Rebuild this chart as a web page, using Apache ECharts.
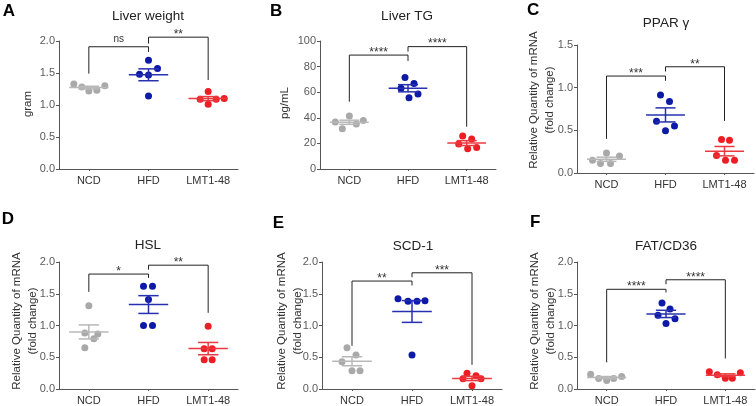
<!DOCTYPE html>
<html><head><meta charset="utf-8">
<script src="https://cdn.jsdelivr.net/npm/echarts@6/dist/echarts.min.js"></script>
<style>html,body{margin:0;padding:0;background:#fff}#c{width:756px;height:406px}</style>
</head><body><div id="c"></div>
<script>
const categories = ['NCD', 'HFD', 'LMT1-48'];

// A – Liver weight (gram)
const liverWeightNCD = [1.33, 1.28, 1.22, 1.23, 1.30];
const liverWeightHFD = [1.70, 1.57, 1.48, 1.47, 1.14];
const liverWeightLMT = [1.21, 1.09, 1.09, 1.10, 1.01];
const liverWeightTicks = ['0.0', '0.5', '1.0', '1.5', '2.0'];
const liverWeightBrackets = [[0, 1, 1.91, 1.49, 1.83, 'ns'], [1, 2, 2.06, 1.96, 1.39, '**']];

// B – Liver TG (pg/mL)
const liverTGNCD = [36.7, 41.4, 31.5, 35.2, 37.8];
const liverTGHFD = [71.4, 66.7, 63.0, 58.6, 55.7];
const liverTGLMT = [25.8, 23.4, 19.5, 15.9, 16.7];
const liverTGTicks = ['0', '20', '40', '60', '80', '100'];
const liverTGBrackets = [[0, 1, 89, 52.6, 84.4, '****'], [1, 2, 95.6, 91.7, 33, '****']];

// C – PPAR gamma
const pparNCD = [0.15, 0.11, 0.235, 0.11, 0.20];
const pparHFD = [0.913, 0.838, 0.607, 0.552, 0.494];
const pparLMT = [0.392, 0.384, 0.204, 0.149, 0.149];
const pparTicks = ['0.0', '0.5', '1.0', '1.5'];
const pparBrackets = [[0, 1, 1.136, 0.40, 1.08, '***'], [1, 2, 1.245, 1.19, 0.61, '**']];

// D – HSL
const hslNCD = [1.31, 0.88, 0.865, 0.79, 0.65];
const hslHFD = [1.62, 1.62, 1.41, 1.00, 1.00];
const hslLMT = [0.99, 0.635, 0.635, 0.46, 0.46];
const hslTicks = ['0.0', '0.5', '1.0', '1.5', '2.0'];
const hslBrackets = [[0, 1, 1.81, 1.53, 1.75, '*'], [1, 2, 1.95, 1.88, 1.20, '**']];

// E – SCD-1
const scdNCD = [0.65, 0.535, 0.43, 0.286, 0.286];
const scdHFD = [1.42, 1.38, 1.38, 1.39, 0.535];
const scdLMT = [0.25, 0.21, 0.16, 0.16, 0.05];
const scdTicks = ['0.0', '0.5', '1.0', '1.5', '2.0'];
const scdBrackets = [[0, 1, 1.70, 0.68, 1.63, '**'], [1, 2, 1.83, 1.76, 0.38, '***']];

// F – FAT/CD36
const cd36NCD = [0.234, 0.166, 0.135, 0.166, 0.197];
const cd36HFD = [1.356, 1.26, 1.16, 1.106, 1.03];
const cd36LMT = [0.27, 0.255, 0.223, 0.17, 0.17];
const cd36Ticks = ['0.0', '0.5', '1.0', '1.5', '2.0'];
const cd36Brackets = [[0, 1, 1.57, 0.42, 1.52, '****'], [1, 2, 1.72, 1.65, 0.48, '****']];

// ---- layout / style (not data) ----
const FONT = '"Liberation Sans", Arial, Helvetica, sans-serif';
const pointColors = ['#a9a9a9', '#0d1aa8', '#ee1d24'];
const lineColors = ['#b8b8b8', '#2630b0', '#ea3a3f'];
const RQ = 'Relative Quantity of mRNA\n(fold change)';

const panels = [
  { letter: 'A', lp: [2.7, 11], title: 'Liver weight', tp: [148, 16], yName: 'gram', np: [27.5, 104],
    groups: [liverWeightNCD, liverWeightHFD, liverWeightLMT], ticks: liverWeightTicks, brackets: liverWeightBrackets,
    grid: { left: 59, top: 41, width: 179, height: 128 },
    jitter: [[-15, -7, 0, 8, 16], [0, 9, -9, 0, 0], [0, -8, 8, 16, 0]] },
  { letter: 'B', lp: [270, 11], title: 'Liver TG', tp: [407, 16], yName: 'pg/mL', np: [285, 103],
    groups: [liverTGNCD, liverTGHFD, liverTGLMT], ticks: liverTGTicks, brackets: liverTGBrackets,
    grid: { left: 320, top: 41, width: 176, height: 128 },
    jitter: [[-14, 0, -7, 7, 14], [-3, 6, -7, 10, 1], [-4, 5, -8, 1, 10]] },
  { letter: 'C', lp: [527, 10], title: 'PPAR \u03b3', tp: [666, 23], yName: RQ, np: [542, 100],
    groups: [pparNCD, pparHFD, pparLMT], ticks: pparTicks, brackets: pparBrackets,
    grid: { left: 577, top: 45, width: 177, height: 128 },
    jitter: [[-14, -6, 0, 4, 13], [-5, 4, -9, 9, 0], [-3, 5, -8, 1, 10]] },
  { letter: 'D', lp: [1.7, 219], title: 'HSL', tp: [148, 245], yName: RQ, np: [25, 321],
    groups: [hslNCD, hslHFD, hslLMT], ticks: hslTicks, brackets: hslBrackets,
    grid: { left: 59, top: 262, width: 179, height: 128.5 },
    jitter: [[0, -4, 9, 5, -4], [-5, 4, 0, -5, 4], [0, -4, 4, -4, 4]] },
  { letter: 'E', lp: [272.7, 223], title: 'SCD-1', tp: [413, 246], yName: RQ, np: [290, 321],
    groups: [scdNCD, scdHFD, scdLMT], ticks: scdTicks, brackets: scdBrackets,
    grid: { left: 322, top: 262, width: 180, height: 128.5 },
    jitter: [[-5, 4, -10, 0, 8], [-14, -4, 5, 13, 0], [-5, 4, 9, -9, 0]] },
  { letter: 'F', lp: [530, 222.5], title: 'FAT/CD36', tp: [666, 246], yName: RQ, np: [543, 321],
    groups: [cd36NCD, cd36HFD, cd36LMT], ticks: cd36Ticks, brackets: cd36Brackets,
    grid: { left: 577, top: 262, width: 178, height: 128.5 },
    jitter: [[-16, -8, 0, 7, 15], [-4, 4, -8, 9, 0], [-16, 15, -8, 0, 7]] }
];

function meanSem(arr) {
  const n = arr.length;
  const m = arr.reduce((a, b) => a + b, 0) / n;
  const v = arr.reduce((a, b) => a + (b - m) * (b - m), 0) / (n - 1);
  return [m, Math.sqrt(v) / Math.sqrt(n)];
}

const grids = [], xAxes = [], yAxes = [], series = [], graphics = [];

panels.forEach((p, i) => {
  grids.push(Object.assign({ containLabel: false }, p.grid));
  xAxes.push({
    type: 'category', gridIndex: i, data: categories,
    axisLine: { lineStyle: { color: '#555', width: 1 } },
    axisTick: { show: true, alignWithLabel: true, length: 2, lineStyle: { color: '#555' } },
    axisLabel: { color: '#333', fontSize: 11, fontFamily: FONT, margin: 6, interval: 0 },
    splitLine: { show: false }
  });
  const tickVals = p.ticks.map(Number);
  const dec = p.ticks[0].indexOf('.') >= 0 ? p.ticks[0].split('.')[1].length : 0;
  yAxes.push({
    type: 'value', gridIndex: i, min: tickVals[0], max: tickVals[tickVals.length - 1],
    interval: tickVals[1] - tickVals[0],
    axisLine: { show: true, lineStyle: { color: '#555', width: 1 } },
    axisTick: { show: true, length: 3, lineStyle: { color: '#555' } },
    axisLabel: { color: '#5a5a5a', fontSize: 11, fontFamily: FONT, margin: 4, formatter: v => v.toFixed(dec) },
    splitLine: { show: false }
  });

  // points
  p.groups.forEach((vals, g) => {
    series.push({
      type: 'scatter', xAxisIndex: i, yAxisIndex: i, symbol: 'circle', symbolSize: 7, silent: true, z: 2,
      itemStyle: { color: pointColors[g], opacity: 1 },
      data: vals.map((v, k) => ({ value: [g, v], symbolOffset: [p.jitter[g][k], 0] }))
    });
  });

  // mean ± SEM
  series.push({
    type: 'custom', xAxisIndex: i, yAxisIndex: i, silent: true, z: 3, clip: false,
    data: p.groups.map((vals, g) => [g].concat(meanSem(vals))),
    encode: { x: 0, y: 1 },
    renderItem: (params, api) => {
      const g = params.dataIndex;
      const x = api.value(0), m = api.value(1), s = api.value(2);
      const c = api.coord([x, m]);
      const t = api.coord([x, m + s]);
      const b = api.coord([x, m - s]);
      const bw = api.size([1, 0])[0];
      const hw = bw * 0.33, cw = bw * 0.17;
      const st = { stroke: lineColors[g], lineWidth: 1.5 };
      return { type: 'group', children: [
        { type: 'line', shape: { x1: c[0] - hw, y1: c[1], x2: c[0] + hw, y2: c[1] }, style: st },
        { type: 'line', shape: { x1: c[0], y1: t[1], x2: c[0], y2: b[1] }, style: st },
        { type: 'line', shape: { x1: c[0] - cw, y1: t[1], x2: c[0] + cw, y2: t[1] }, style: st },
        { type: 'line', shape: { x1: c[0] - cw, y1: b[1], x2: c[0] + cw, y2: b[1] }, style: st }
      ] };
    }
  });

  // significance brackets
  series.push({
    type: 'custom', xAxisIndex: i, yAxisIndex: i, silent: true, z: 4, clip: false,
    data: p.brackets.map(br => br.slice(0, 5)),
    encode: { x: [0, 1], y: [2, 3, 4] },
    renderItem: (params, api) => {
      const br = p.brackets[params.dataIndex];
      const a = api.value(0), bb = api.value(1);
      const h = api.value(2), l = api.value(3), r = api.value(4);
      const p1 = api.coord([a, l]), p2 = api.coord([a, h]);
      const p3 = api.coord([bb, h]), p4 = api.coord([bb, r]);
      const isStar = br[5].indexOf('*') >= 0;
      return { type: 'group', children: [
        { type: 'polyline', shape: { points: [p1, p2, p3, p4] }, style: { stroke: '#222', lineWidth: 1, fill: null } },
        { type: 'text', style: {
            text: br[5], x: (p2[0] + p3[0]) / 2, y: isStar ? p2[1] + 3.5 : p2[1] - 3,
            textAlign: 'center', textVerticalAlign: 'bottom',
            fontSize: isStar ? 12 : 10, fontFamily: FONT, fill: '#333' } }
      ] };
    }
  });

  graphics.push({ type: 'text', x: p.lp[0], y: p.lp[1], style: {
    text: p.letter, fontSize: 17, fontWeight: 'bold', fontFamily: FONT, fill: '#000',
    textAlign: 'left', textVerticalAlign: 'middle' } });
  graphics.push({ type: 'text', x: p.tp[0], y: p.tp[1], style: {
    text: p.title, fontSize: 13.5, fontFamily: FONT, fill: '#222',
    textAlign: 'center', textVerticalAlign: 'middle' } });
  graphics.push({ type: 'text', x: p.np[0], y: p.np[1], rotation: Math.PI / 2, style: {
    text: p.yName, fontSize: 11.5, lineHeight: 16, fontFamily: FONT, fill: '#333',
    textAlign: 'center', textVerticalAlign: 'middle' } });
});

const chart = echarts.init(document.getElementById('c'), null, { renderer: 'canvas' });
chart.setOption({
  animation: false,
  backgroundColor: '#fff',
  grid: grids, xAxis: xAxes, yAxis: yAxes, series: series,
  graphic: graphics
});
</script></body></html>
